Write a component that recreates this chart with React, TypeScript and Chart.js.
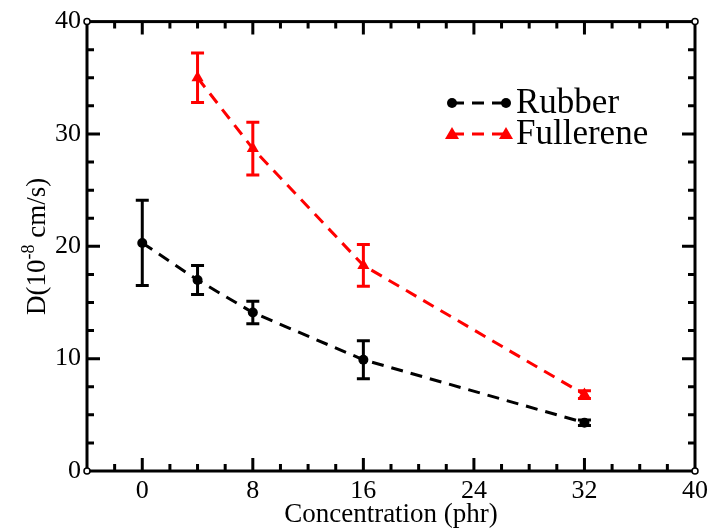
import React, { useEffect, useRef } from "react";
import { Chart, registerables } from "chart.js";

Chart.register(...registerables);

const concentration = [0, 4, 8, 16, 32];
const rubberD = [20.3, 17.0, 14.1, 9.9, 4.3];
const rubberErr = [3.8, 1.3, 1.0, 1.7, 0.25];
const fullereneX = [4, 8, 16, 32];
const fullereneD = [35.0, 28.7, 18.3, 6.8];
const fullereneErr = [2.2, 2.35, 1.85, 0.35];
const xTicks = [0, 8, 16, 24, 32, 40];
const yTicks = [0, 10, 20, 30, 40];
const seriesNames = ["Rubber", "Fullerene"];
const xTitle = "Concentration (phr)";

const FONT = "'Liberation Serif', 'Times New Roman', serif";

const errorBars = {
  id: "errorBars",
  afterDatasetsDraw(chart: any) {
    const ctx = chart.ctx;
    const xs = chart.scales.x;
    const ys = chart.scales.y;
    const sets = [
      { x: concentration, y: rubberD, e: rubberErr, c: "#000000" },
      { x: fullereneX, y: fullereneD, e: fullereneErr, c: "#ff0000" },
    ];
    ctx.save();
    ctx.lineWidth = 3;
    sets.forEach((s) => {
      ctx.strokeStyle = s.c;
      s.x.forEach((xv, i) => {
        const px = xs.getPixelForValue(xv);
        const top = ys.getPixelForValue(s.y[i] + s.e[i]);
        const bot = ys.getPixelForValue(s.y[i] - s.e[i]);
        ctx.beginPath();
        ctx.moveTo(px, top);
        ctx.lineTo(px, bot);
        ctx.moveTo(px - 6.5, top);
        ctx.lineTo(px + 6.5, top);
        ctx.moveTo(px - 6.5, bot);
        ctx.lineTo(px + 6.5, bot);
        ctx.stroke();
      });
    });
    ctx.restore();
  },
};

const frame = {
  id: "frame",
  afterDraw(chart: any) {
    const ctx = chart.ctx;
    const a = chart.chartArea;
    const xs = chart.scales.x;
    const ys = chart.scales.y;
    ctx.save();
    ctx.strokeStyle = "#000";
    ctx.lineWidth = 3;
    ctx.strokeRect(a.left, a.top, a.right - a.left, a.bottom - a.top);
    for (let v = -2; v < 40; v += 2) {
      const px = xs.getPixelForValue(v);
      const major = v % 8 === 0;
      const len = major ? 13 : 7;
      ctx.beginPath();
      ctx.moveTo(px, a.bottom);
      ctx.lineTo(px, a.bottom - len);
      ctx.moveTo(px, a.top);
      ctx.lineTo(px, a.top + len);
      ctx.stroke();
    }
    for (let v = 2.5; v < 40; v += 2.5) {
      const py = ys.getPixelForValue(v);
      const major = v % 10 === 0;
      const len = major ? 13 : 7;
      ctx.beginPath();
      ctx.moveTo(a.left, py);
      ctx.lineTo(a.left + len, py);
      ctx.moveTo(a.right, py);
      ctx.lineTo(a.right - len, py);
      ctx.stroke();
    }
    ctx.lineWidth = 1.5;
    [[a.left, a.top], [a.right, a.top], [a.left, a.bottom], [a.right, a.bottom]].forEach(([cx, cy]) => {
      ctx.beginPath();
      ctx.arc(cx, cy, 3, 0, Math.PI * 2);
      ctx.fillStyle = "#fff";
      ctx.fill();
      ctx.stroke();
    });
    ctx.fillStyle = "#000";
    ctx.font = `27px ${FONT}`;
    ctx.textAlign = "center";
    ctx.textBaseline = "alphabetic";
    ctx.fillText(xTitle, (a.left + a.right) / 2, 522);
    ctx.save();
    ctx.translate(45, (a.top + a.bottom) / 2);
    ctx.rotate(-Math.PI / 2);
    const p1 = "D(10";
    const sup = "-8";
    const p2 = " cm/s)";
    ctx.font = `27px ${FONT}`;
    const w1 = ctx.measureText(p1).width;
    const w3 = ctx.measureText(p2).width;
    ctx.font = `18px ${FONT}`;
    const w2 = ctx.measureText(sup).width;
    const total = w1 + w2 + w3;
    const x0 = -total / 2;
    ctx.textAlign = "left";
    ctx.font = `27px ${FONT}`;
    ctx.fillText(p1, x0, 0);
    ctx.font = `18px ${FONT}`;
    ctx.fillText(sup, x0 + w1, -11);
    ctx.font = `27px ${FONT}`;
    ctx.fillText(p2, x0 + w1 + w2, 0);
    ctx.restore();
    const items = [
      { name: seriesNames[0], color: "#000", style: "circle", y: 103 },
      { name: seriesNames[1], color: "#ff0000", style: "triangle", y: 134 },
    ];
    items.forEach((it) => {
      const x1 = 452;
      const x2 = 506;
      ctx.strokeStyle = it.color;
      ctx.fillStyle = it.color;
      ctx.lineWidth = 3;
      ctx.setLineDash([12, 8]);
      ctx.beginPath();
      ctx.moveTo(x1, it.y);
      ctx.lineTo(x2, it.y);
      ctx.stroke();
      ctx.setLineDash([]);
      [x1, x2].forEach((mx) => {
        ctx.beginPath();
        if (it.style === "circle") {
          ctx.arc(mx, it.y, 5, 0, Math.PI * 2);
        } else {
          ctx.moveTo(mx, it.y - 7);
          ctx.lineTo(mx + 7, it.y + 5);
          ctx.lineTo(mx - 7, it.y + 5);
          ctx.closePath();
        }
        ctx.fill();
      });
      ctx.fillStyle = "#000";
      ctx.font = `35px ${FONT}`;
      ctx.textAlign = "left";
      ctx.textBaseline = "middle";
      ctx.fillText(it.name, 516, it.y + 1);
    });
    ctx.restore();
  },
};

export default function App() {
  const ref = useRef<HTMLCanvasElement>(null);
  useEffect(() => {
    if (!ref.current) return;
    const chart = new Chart(ref.current, {
      type: "line",
      data: {
        datasets: [
          {
            label: seriesNames[0],
            data: concentration.map((x, i) => ({ x, y: rubberD[i] })),
            borderColor: "#000",
            backgroundColor: "#000",
            borderWidth: 3,
            borderDash: [12, 8],
            pointStyle: "circle",
            pointRadius: 5,
            pointBorderWidth: 0,
            tension: 0,
          },
          {
            label: seriesNames[1],
            data: fullereneX.map((x, i) => ({ x, y: fullereneD[i] })),
            borderColor: "#ff0000",
            backgroundColor: "#ff0000",
            borderWidth: 3,
            borderDash: [12, 8],
            pointStyle: "triangle",
            pointRadius: 7,
            pointBorderWidth: 0,
            tension: 0,
          },
        ],
      },
      options: {
        animation: false,
        responsive: false,
        maintainAspectRatio: false,
        layout: { padding: { top: 21, right: 16, left: 0, bottom: 0 } },
        plugins: { legend: { display: false }, tooltip: { enabled: false } },
        scales: {
          x: {
            type: "linear",
            min: -4,
            max: 40,
            afterBuildTicks: (s: any) => {
              s.ticks = xTicks.map((v) => ({ value: v }));
            },
            afterFit: (s: any) => {
              s.height = 58;
            },
            grid: { display: false, drawTicks: false },
            border: { display: false },
            ticks: {
              color: "#000",
              font: { family: FONT, size: 26 },
              padding: 5,
              maxRotation: 0,
              autoSkip: false,
            },
          },
          y: {
            type: "linear",
            min: 0,
            max: 40,
            afterBuildTicks: (s: any) => {
              s.ticks = yTicks.map((v) => ({ value: v }));
            },
            afterFit: (s: any) => {
              s.width = 87;
            },
            grid: { display: false, drawTicks: false },
            border: { display: false },
            ticks: {
              color: "#000",
              font: { family: FONT, size: 26 },
              padding: 6,
              autoSkip: false,
            },
          },
        },
      },
      plugins: [errorBars, frame],
    });
    return () => chart.destroy();
  }, []);
  return (
    <div style={{ position: "fixed", left: 0, top: 0, width: 713, height: 529, background: "#fff" }}>
      <canvas ref={ref} width={713} height={529} />
    </div>
  );
}
